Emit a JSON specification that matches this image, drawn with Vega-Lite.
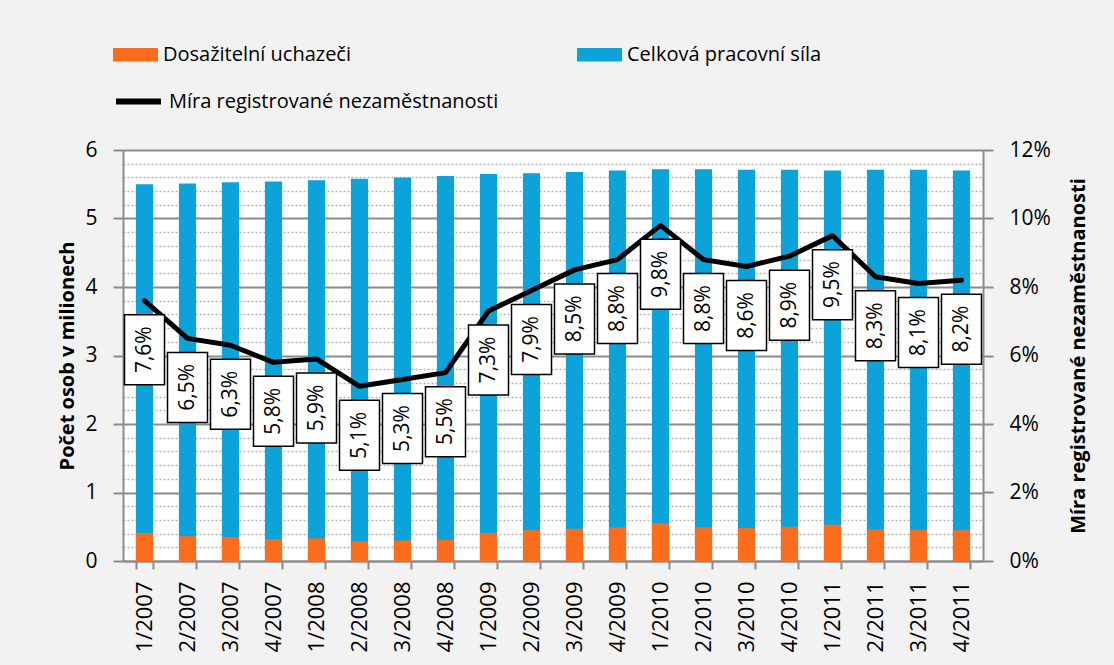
{
  "$schema": "https://vega.github.io/schema/vega-lite/v6.json",
  "width": 860,
  "height": 411,
  "autosize": {"type": "none"},
  "padding": {"left": 123, "top": 150, "right": 131, "bottom": 104},
  "background": "#f2f2f2",
  "config": {
    "locale": {"number": {"decimal": ",", "thousands": " ", "grouping": [3], "currency": ["", " Kč"]}},
    "view": {"fill": "white", "stroke": null},
    "font": "Open Sans",
    "axis": {
      "labelFont": "Open Sans",
      "labelFontSize": 21,
      "labelColor": "black",
      "domainColor": "#8c8c8c",
      "domainWidth": 2,
      "tickColor": "#8c8c8c",
      "tickWidth": 2,
      "tickSize": 10,
      "titleFont": "Open Sans",
      "titleFontSize": 20,
      "titleFontWeight": "bold",
      "titleColor": "black"
    },
    "legend": {
      "labelFont": "Open Sans",
      "labelFontSize": 20,
      "labelColor": "black",
      "labelLimit": 500,
      "padding": 0
    }
  },
  "data": {
    "values": [
      {"q": "1/2007", "sila": 5.50, "uchazeci": 0.41, "mira": 0.076},
      {"q": "2/2007", "sila": 5.51, "uchazeci": 0.36, "mira": 0.065},
      {"q": "3/2007", "sila": 5.53, "uchazeci": 0.35, "mira": 0.063},
      {"q": "4/2007", "sila": 5.54, "uchazeci": 0.32, "mira": 0.058},
      {"q": "1/2008", "sila": 5.56, "uchazeci": 0.33, "mira": 0.059},
      {"q": "2/2008", "sila": 5.58, "uchazeci": 0.29, "mira": 0.051},
      {"q": "3/2008", "sila": 5.60, "uchazeci": 0.30, "mira": 0.053},
      {"q": "4/2008", "sila": 5.62, "uchazeci": 0.31, "mira": 0.055},
      {"q": "1/2009", "sila": 5.65, "uchazeci": 0.41, "mira": 0.073},
      {"q": "2/2009", "sila": 5.66, "uchazeci": 0.45, "mira": 0.079},
      {"q": "3/2009", "sila": 5.68, "uchazeci": 0.47, "mira": 0.085},
      {"q": "4/2009", "sila": 5.70, "uchazeci": 0.49, "mira": 0.088},
      {"q": "1/2010", "sila": 5.72, "uchazeci": 0.55, "mira": 0.098},
      {"q": "2/2010", "sila": 5.72, "uchazeci": 0.49, "mira": 0.088},
      {"q": "3/2010", "sila": 5.71, "uchazeci": 0.48, "mira": 0.086},
      {"q": "4/2010", "sila": 5.71, "uchazeci": 0.50, "mira": 0.089},
      {"q": "1/2011", "sila": 5.70, "uchazeci": 0.53, "mira": 0.095},
      {"q": "2/2011", "sila": 5.71, "uchazeci": 0.46, "mira": 0.083},
      {"q": "3/2011", "sila": 5.71, "uchazeci": 0.45, "mira": 0.081},
      {"q": "4/2011", "sila": 5.70, "uchazeci": 0.45, "mira": 0.082}
    ]
  },
  "encoding": {
    "x": {
      "field": "q",
      "type": "ordinal",
      "sort": null,
      "scale": {"paddingInner": 0.6, "paddingOuter": 0.3},
      "axis": {
        "title": null,
        "labelAngle": -90,
        "labelFontSize": 22,
        "tickBand": "extent",
        "tickSize": 8,
        "labelPadding": 12
      }
    }
  },
  "layer": [
    {
      "layer": [
        {
          "mark": {"type": "bar"},
          "encoding": {
            "y": {
              "field": "sila",
              "type": "quantitative",
              "scale": {"domain": [0, 6], "nice": false},
              "axis": {
                "title": "Počet osob v milionech",
                "values": [0, 0.2, 0.4, 0.6, 0.8, 1, 1.2, 1.4, 1.6, 1.8, 2, 2.2, 2.4, 2.6, 2.8, 3, 3.2, 3.4, 3.6, 3.8, 4, 4.2, 4.4, 4.6, 4.8, 5, 5.2, 5.4, 5.6, 5.8, 6],
                "tickCount": 100,
                "labelOverlap": false,
                "grid": true,
                "gridColor": {"condition": {"test": "abs(datum.value - round(datum.value)) < 0.01", "value": "#8c8c8c"}, "value": "#b3b3b3"},
                "gridDash": {"condition": {"test": "abs(datum.value - round(datum.value)) < 0.01", "value": []}, "value": [2, 2]},
                "gridWidth": {"condition": {"test": "abs(datum.value - round(datum.value)) < 0.01", "value": 2}, "value": 1.5},
                "tickOpacity": {"condition": {"test": "abs(datum.value - round(datum.value)) < 0.01", "value": 1}, "value": 0},
                "labelExpr": "abs(datum.value - round(datum.value)) < 0.01 ? format(datum.value, '.0f') : ''",
                "labelPadding": 16,
                "titlePadding": 7
              }
            },
            "color": {
              "datum": "Celková pracovní síla",
              "scale": {"domain": ["Dosažitelní uchazeči", "Celková pracovní síla"], "range": ["#fb6d1d", "#0ba3d9"]},
              "legend": {
                "orient": "none",
                "legendX": -10,
                "legendY": -118,
                "direction": "horizontal",
                "columns": 2,
                "columnPadding": 226,
                "title": null,
                "symbolType": "M-1,-0.3H1V0.3H-1Z",
                "symbolSize": 2025,
                "symbolStrokeWidth": 0,
                "labelOffset": 5
              }
            }
          }
        },
        {
          "mark": {"type": "bar"},
          "encoding": {
            "y": {"field": "uchazeci", "type": "quantitative", "title": "Počet osob v milionech"},
            "color": {"datum": "Dosažitelní uchazeči"}
          }
        }
      ]
    },
    {
      "layer": [
        {
          "mark": {"type": "line", "strokeWidth": 5, "strokeJoin": "round", "strokeCap": "round"},
          "encoding": {
            "y": {
              "field": "mira",
              "type": "quantitative",
              "scale": {"domain": [0, 0.12], "nice": false},
              "axis": {
                "title": "Míra registrované nezaměstnanosti",
                "orient": "right",
                "format": ".0%",
                "values": [0, 0.02, 0.04, 0.06, 0.08, 0.1, 0.12],
                "labelOverlap": false,
                "grid": false,
                "labelPadding": 16,
                "titleAngle": 270,
                "titlePadding": 38
              }
            },
            "stroke": {
              "datum": "Míra registrované nezaměstnanosti",
              "scale": {"range": ["black"]},
              "legend": {
                "orient": "none",
                "legendX": -10,
                "legendY": -74,
                "title": null,
                "symbolType": "stroke",
                "symbolSize": 2025,
                "symbolStrokeWidth": 6,
                "labelOffset": 5
              }
            }
          }
        },
        {
          "mark": {"type": "point", "shape": "M-20,-35H20V35H-20Z", "size": 4, "filled": true, "fill": "white", "stroke": "black", "strokeWidth": 1.5, "opacity": 1, "yOffset": 49},
          "encoding": {
            "y": {"field": "mira", "type": "quantitative"}
          }
        },
        {
          "mark": {"type": "text", "angle": 270, "fontSize": 21, "font": "Open Sans", "color": "black", "yOffset": 49},
          "encoding": {
            "y": {"field": "mira", "type": "quantitative"},
            "text": {"field": "mira", "type": "quantitative", "format": ".1%"}
          }
        }
      ]
    }
  ],
  "resolve": {"scale": {"y": "independent"}}
}
